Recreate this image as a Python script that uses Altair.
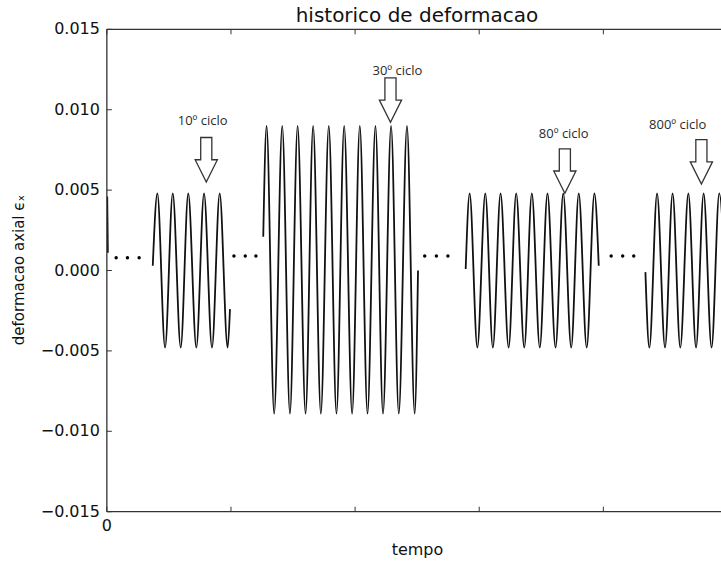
import altair as alt
import pandas as pd

# ---- curve segments (time, strain): extrema + segment ends ----
seg0_t = [0.03, 0.08]
seg0_v = [0.0046, 0.0011]

seg1_t = [3.70, 4.07, 4.69, 5.31, 5.95, 6.56, 7.21, 7.83, 8.47, 9.09, 9.73, 9.92]
seg1_v = [0.0003, 0.0048, -0.0048, 0.0048, -0.0048, 0.0048, -0.0048, 0.0048,
          -0.0048, 0.0048, -0.0048, -0.0024]

seg2_t = [12.60, 12.87, 13.48, 14.13, 14.75, 15.37, 16.01, 16.62, 17.24, 17.88, 18.50,
          19.12, 19.76, 20.38, 21.00, 21.64, 22.25, 22.90, 23.52, 24.18, 24.80, 25.07]
seg2_v = [0.0021, 0.0090, -0.0089, 0.0090, -0.0089, 0.0090, -0.0089, 0.0090, -0.0089,
          0.0090, -0.0089, 0.0090, -0.0089, 0.0090, -0.0089, 0.0090, -0.0089, 0.0090,
          -0.0089, 0.0090, -0.0089, 0.0000]

seg3_t = [28.91, 29.23, 29.85, 30.49, 31.10, 31.72, 32.37, 32.98, 33.63, 34.24, 34.88,
          35.50, 36.15, 36.77, 37.41, 38.02, 38.66, 39.28, 39.63]
seg3_v = [0.0001, 0.0048, -0.0048, 0.0048, -0.0048, 0.0048, -0.0048, 0.0048, -0.0048,
          0.0048, -0.0048, 0.0048, -0.0048, 0.0048, -0.0048, 0.0048, -0.0048, 0.0048,
          0.0003]

seg4_t = [43.39, 43.71, 44.33, 44.97, 45.58, 46.20, 46.85, 47.47, 48.08, 48.72, 49.34, 49.98]
seg4_v = [-0.0001, -0.0048, 0.0048, -0.0048, 0.0048, -0.0048, 0.0048, -0.0048, 0.0048,
          -0.0048, 0.0048, -0.0048]

# ---- "..." dots ----
dot_t = [0.75, 1.66, 2.60, 10.24, 11.15, 12.01, 25.61, 26.55, 27.48, 40.63, 41.56, 42.45]
dot_v = [0.0008, 0.0008, 0.0008, 0.0009, 0.0009, 0.0009, 0.0009, 0.0009, 0.0009,
         0.0009, 0.0009, 0.0009]

# ---- annotations ----
label_text = ["10º ciclo", "30º ciclo", "80º ciclo", "800º ciclo"]
label_t = [7.72, 23.41, 36.81, 45.99]
label_v = [0.00928, 0.01244, 0.0085, 0.00902]
arrow_t = [8.01, 22.85, 36.90, 47.90]
arrow_v = [0.00689, 0.0106, 0.00619, 0.00676]

# ---- ticks and texts ----
xtick_vals = [0, 10, 20, 30, 40]
xtick_text = ["0", "", "", "", ""]
ytick_vals = [-0.015, -0.010, -0.005, 0.0, 0.005, 0.010, 0.015]
title_text = ["historico de deformacao"]
xtitle_text = ["tempo"]
ytitle_text = ["deformacao axial ϵₓ"]

segments = {"s0": (seg0_t, seg0_v), "s1": (seg1_t, seg1_v), "s2": (seg2_t, seg2_v),
            "s3": (seg3_t, seg3_v), "s4": (seg4_t, seg4_v)}
rows = []
for name, (ts, vs) in segments.items():
    for t, v in zip(ts, vs):
        rows.append({"seg": name, "t": t, "v": v})
curve = pd.DataFrame(rows)
dots = pd.DataFrame({"t": dot_t, "v": dot_v})
labels = pd.DataFrame({"t": label_t, "v": label_v, "txt": label_text})
arrows = pd.DataFrame({"t": arrow_t, "v": arrow_v})
xt = pd.DataFrame({"t": xtick_vals, "txt": xtick_text})
yt = pd.DataFrame({"v": ytick_vals})
one = pd.DataFrame({"k": [0]})

W, H = 615, 483
xs = alt.Scale(domain=[0, 49.48], nice=False, zero=False)
ys = alt.Scale(domain=[-0.015, 0.015], nice=False, zero=False)
FONT = "DejaVu Sans"
INK = "#333333"
TXT = "#111111"


def X(field="t:Q"):
    return alt.X(field, scale=xs, axis=None)


def Y(field="v:Q"):
    return alt.Y(field, scale=ys, axis=None)


lines = alt.Chart(curve).mark_line(
    interpolate="monotone", color="#111111", strokeWidth=1.8, clip=True
).encode(x=X(), y=Y(), detail="seg:N")

dot_layer = alt.Chart(dots).mark_circle(size=12, color="#000000", opacity=1).encode(
    x=X(), y=Y())

ARROW = "M-0.25,-1 L0.25,-1 L0.25,0 L0.5,0 L0,1 L-0.5,0 L-0.25,0 Z"
arrow_layer = alt.Chart(arrows).mark_point(
    shape=ARROW, size=1980, filled=True, fill="white", stroke=INK, strokeWidth=1.3, opacity=1
).encode(x=X(), y=Y())

label_layer = alt.Chart(labels).mark_text(
    font="Open Sans", fontSize=13, color="#2a2a2a", align="center", baseline="middle"
).encode(x=X(), y=Y(), text="txt:N")

# frame (left, top, bottom; right side lies outside the window)
frame_left = alt.Chart(one).mark_rule(color=INK, strokeWidth=1.3).encode(
    x=alt.value(0), y=alt.value(0), y2=alt.value(H))
frame_top = alt.Chart(one).mark_rule(color=INK, strokeWidth=1.3).encode(
    y=alt.value(0), x=alt.value(0), x2=alt.value(W))
frame_bottom = alt.Chart(one).mark_rule(color=INK, strokeWidth=1.3).encode(
    y=alt.value(H), x=alt.value(0), x2=alt.value(W))

# inward ticks
xb = alt.Chart(xt).mark_rule(color=INK, strokeWidth=1).encode(
    x=X(), y=alt.value(H), y2=alt.value(H - 5))
xtop = alt.Chart(xt).mark_rule(color=INK, strokeWidth=1).encode(
    x=X(), y=alt.value(0), y2=alt.value(5))
yl = alt.Chart(yt).mark_rule(color=INK, strokeWidth=1).encode(
    y=Y(), x=alt.value(0), x2=alt.value(5))

# tick labels
ylab = alt.Chart(yt).mark_text(
    font=FONT, fontSize=16, color=TXT, align="right", baseline="middle"
).encode(y=Y(), x=alt.value(-7), text=alt.Text("v:Q", format=".3f"))
xlab = alt.Chart(xt).mark_text(
    font=FONT, fontSize=16, color=TXT, align="center", baseline="top"
).encode(x=X(), y=alt.value(H + 6), text="txt:N")

# titles
title_layer = alt.Chart(pd.DataFrame({"txt": title_text})).mark_text(
    font=FONT, fontSize=20, color=TXT, align="center", baseline="alphabetic"
).encode(x=alt.value(310.5), y=alt.value(-7.5), text="txt:N")
xtitle = alt.Chart(pd.DataFrame({"txt": xtitle_text})).mark_text(
    font=FONT, fontSize=16, color=TXT, align="center", baseline="middle"
).encode(x=alt.value(311), y=alt.value(H + 38), text="txt:N")
ytitle = alt.Chart(pd.DataFrame({"txt": ytitle_text})).mark_text(
    font=FONT, fontSize=15, color=TXT, align="center", baseline="middle", angle=270
).encode(x=alt.value(-87.5), y=alt.value(241), text="txt:N")

chart = alt.layer(
    lines, frame_left, frame_top, frame_bottom, xb, xtop, yl, dot_layer, arrow_layer,
    label_layer, ylab, xlab, title_layer, xtitle, ytitle
).properties(
    width=W, height=H,
    autosize=alt.AutoSizeParams(type="none"),
    padding={"left": 107, "top": 29, "right": 0, "bottom": 51},
    background="white",
).configure_view(stroke=None)

chart.save("out.html", embed_options={"renderer": "svg", "actions": False})
